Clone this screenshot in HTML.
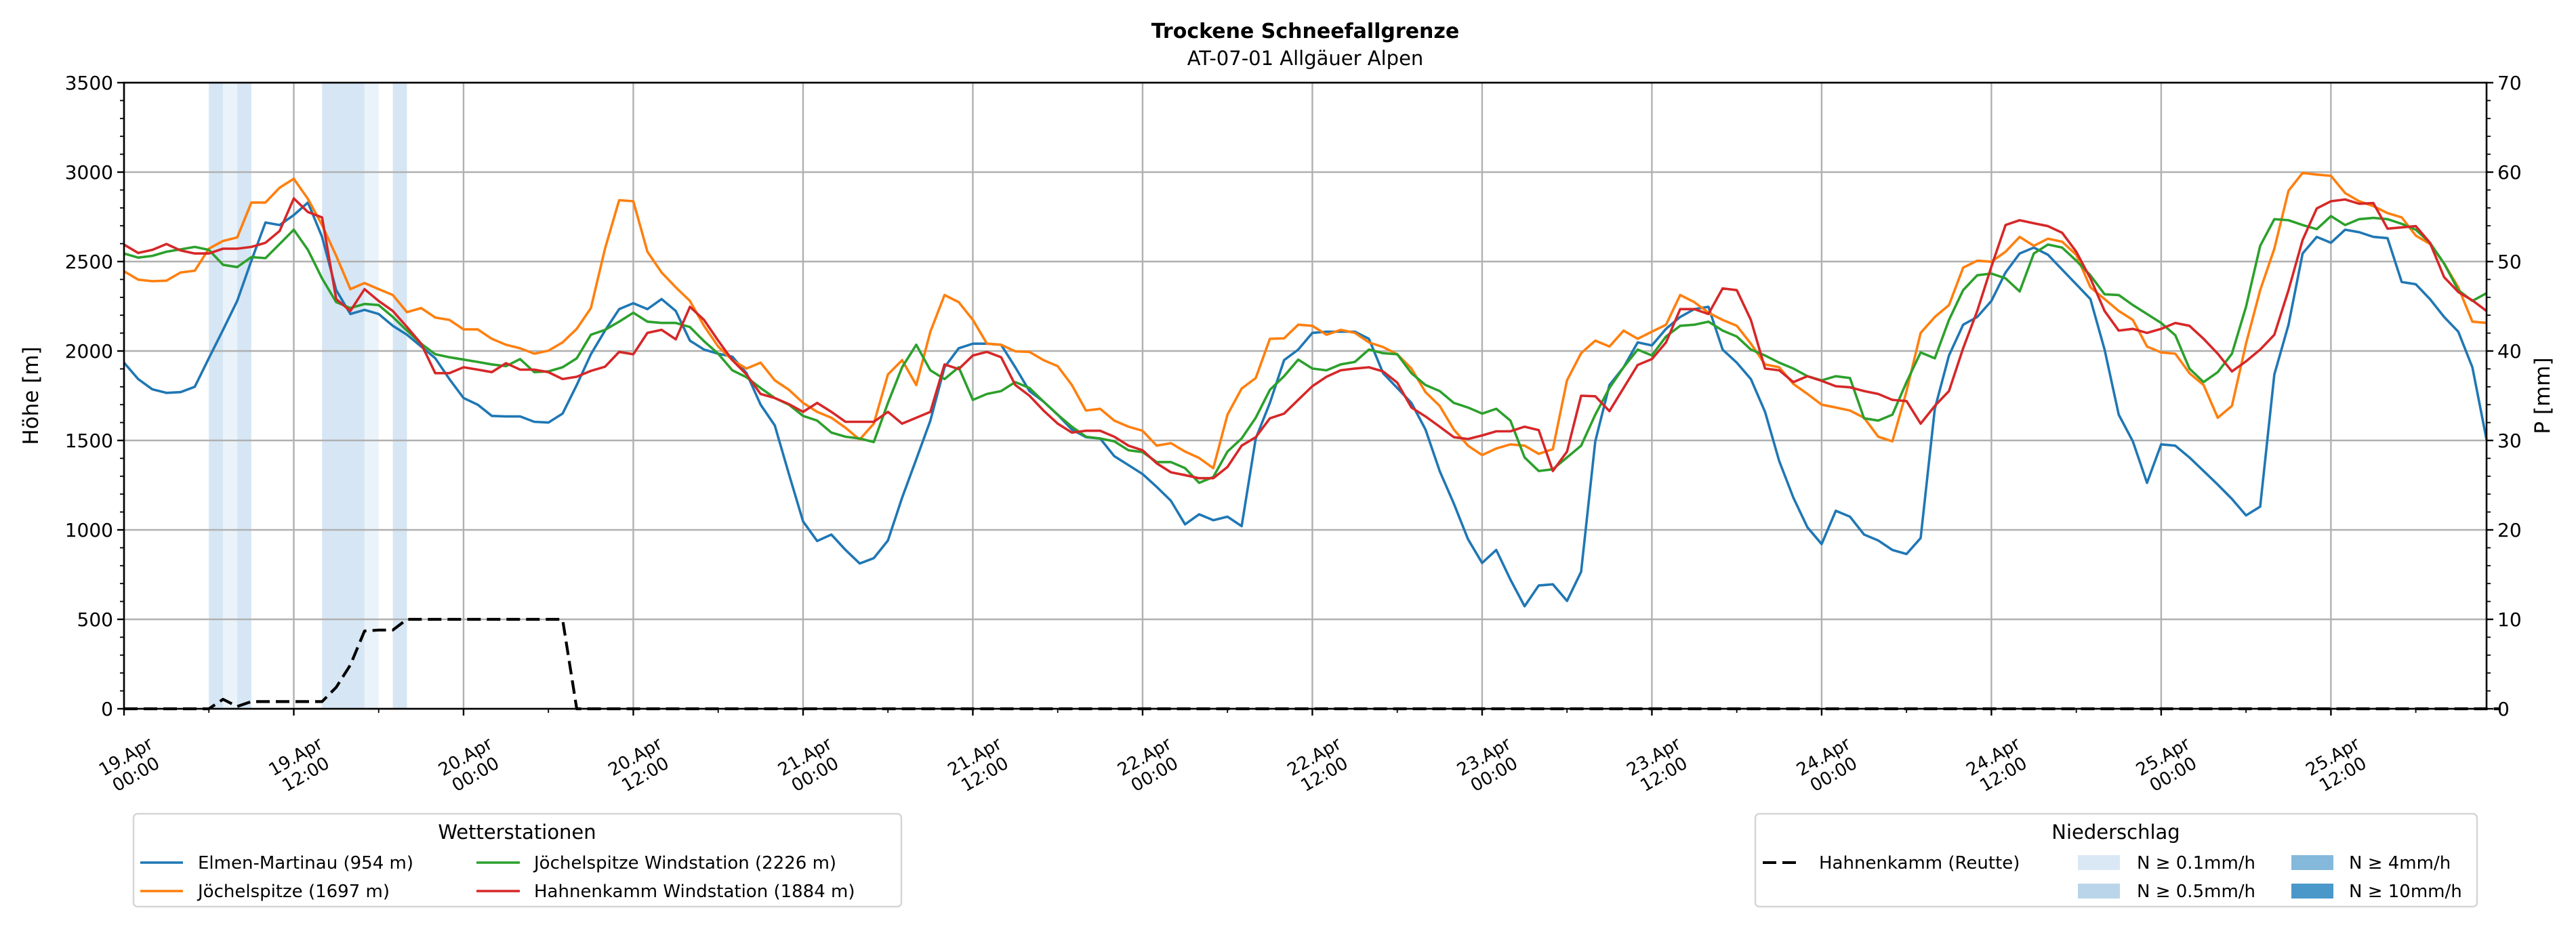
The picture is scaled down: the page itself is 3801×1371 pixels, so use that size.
<!DOCTYPE html>
<html><head><meta charset="utf-8"><style>
html,body{margin:0;padding:0;background:#fff;}
svg{display:block;font-family:"DejaVu Sans","Liberation Sans",sans-serif;}
</style></head><body>
<svg id="chart" width="3801" height="1371" viewBox="0 0 3801 1371" xmlns="http://www.w3.org/2000/svg">
<text x="1926" y="56" text-anchor="middle" font-size="30" font-weight="bold">Trockene Schneefallgrenze</text>
<text x="1926" y="96" text-anchor="middle" font-size="29">AT-07-01 Allgäuer Alpen</text>
<g id="bands"></g>
<g id="grid"></g>
<g id="series"></g>
<g id="axes"></g>
<text transform="translate(46,584) rotate(-90)" text-anchor="middle" dominant-baseline="central" font-size="31">Höhe [m]</text>
<text transform="translate(3752,584) rotate(-90)" text-anchor="middle" dominant-baseline="central" font-size="31">P [mm]</text>

<g>
<rect x="197" y="1201" width="1133" height="137" rx="6" fill="#fff" stroke="#d6d6d6" stroke-width="2.5"/>
<text x="763" y="1238" text-anchor="middle" font-size="29">Wetterstationen</text>
<g><line x1="207" y1="1273" x2="270" y2="1273" stroke="#1f77b4" stroke-width="3.5"/><text x="292" y="1282" font-size="26">Elmen-Martinau (954 m)</text></g>
<g><line x1="207" y1="1315" x2="270" y2="1315" stroke="#ff7f0e" stroke-width="3.5"/><text x="292" y="1324" font-size="26">Jöchelspitze (1697 m)</text></g>
<g><line x1="703" y1="1273" x2="767" y2="1273" stroke="#2ca02c" stroke-width="3.5"/><text x="788" y="1282" font-size="26">Jöchelspitze Windstation (2226 m)</text></g>
<g><line x1="703" y1="1315" x2="767" y2="1315" stroke="#d62728" stroke-width="3.5"/><text x="788" y="1324" font-size="26">Hahnenkamm Windstation (1884 m)</text></g>
</g>

<g>
<rect x="2590" y="1201" width="1065" height="137" rx="6" fill="#fff" stroke="#d6d6d6" stroke-width="2.5"/>
<text x="3122" y="1238" text-anchor="middle" font-size="29">Niederschlag</text>
<g><line x1="2601" y1="1273" x2="2658" y2="1273" stroke="#000" stroke-width="4" stroke-dasharray="20,9"/><text x="2684" y="1282" font-size="26">Hahnenkamm (Reutte)</text></g>
<g><rect x="3066" y="1262" width="62" height="22" fill="#dae8f5"/><text x="3153" y="1282" font-size="26">N ≥ 0.1mm/h</text></g>
<g><rect x="3066" y="1304" width="62" height="22" fill="#bad5ea"/><text x="3153" y="1324" font-size="26">N ≥ 0.5mm/h</text></g>
<g><rect x="3381" y="1262" width="62" height="22" fill="#84b9dc"/><text x="3466" y="1282" font-size="26">N ≥ 4mm/h</text></g>
<g><rect x="3381" y="1304" width="62" height="22" fill="#4a97c9"/><text x="3466" y="1324" font-size="26">N ≥ 10mm/h</text></g>
</g>
</svg>
<script>
const elmen = [1935,1843,1786,1766,1770,1800,1960,2118,2280,2505,2718,2704,2760,2830,2638,2340,2207,2230,2207,2141,2091,2025,1960,1843,1737,1700,1637,1634,1634,1604,1600,1650,1810,1982,2114,2234,2267,2234,2290,2224,2058,2008,1985,1968,1876,1700,1584,1312,1047,938,974,888,812,842,
941,1180,1395,1611,1909,2015,2041,2041,2035,1909,1776,1717,1644,1561,1518,1511,1412,1362,1312,1240,1163,1031,1087,1054,1074,1021,1511,1710,1949,2008,2101,2108,2108,2108,2068,1876,1793,1710,1561,1329,1147,948,815,888,722,573,689,696,603,766,1495,1810,1909,2048,2031,2124,2190,2234,2247,2008,
1935,1843,1660,1385,1180,1014,921,1107,1074,974,941,888,865,954,1677,1975,2147,2190,2280,2439,2545,2578,2538,2455,2373,2290,2008,1644,1495,1263,1478,1471,1405,1329,1253,1173,1081,1130,1869,2147,2545,2638,2605,2678,2664,2638,2631,2386,2373,2290,2190,2108,1909,1505];
const joechel = [2446,2399,2390,2393,2439,2449,2572,2615,2635,2830,2830,2913,2963,2850,2704,2532,2346,2380,2346,2313,2217,2240,2187,2174,2121,2121,2068,2035,2015,1985,2002,2048,2124,2240,2572,2843,2837,2555,2439,2356,2280,2141,2025,1949,1902,1935,1836,1783,1710,1660,1627,1571,1505,1594,
1869,1949,1810,2108,2313,2273,2174,2041,2035,1998,1995,1949,1915,1810,1667,1677,1611,1577,1554,1471,1485,1438,1402,1345,1644,1790,1849,2068,2071,2147,2141,2091,2118,2101,2048,2022,1982,1902,1770,1693,1561,1471,1418,1455,1478,1471,1425,1451,1836,1988,2058,2025,2114,2068,2108,2147,2313,2273,2214,2174,
2141,2041,1925,1909,1816,1760,1700,1684,1667,1627,1521,1495,1776,2101,2190,2257,2466,2505,2499,2555,2638,2588,2628,2611,2538,2356,2290,2224,2174,2025,1992,1985,1876,1810,1627,1693,2041,2340,2572,2896,2996,2986,2979,2883,2837,2810,2771,2747,2645,2598,2489,2356,2164,2157];
const joechelWind = [2545,2522,2532,2555,2568,2582,2565,2482,2469,2525,2519,2598,2678,2565,2406,2273,2240,2263,2257,2190,2114,2041,1982,1965,1952,1939,1925,1915,1955,1882,1886,1909,1959,2091,2118,2164,2214,2164,2157,2157,2134,2055,1985,1892,1853,1793,1737,1700,1637,1611,1544,1521,1511,1491,
1710,1909,2035,1892,1843,1909,1727,1760,1776,1826,1793,1717,1644,1577,1521,1511,1495,1445,1435,1379,1379,1345,1263,1296,1438,1511,1627,1783,1859,1952,1902,1892,1925,1939,2008,1988,1982,1876,1810,1776,1710,1684,1650,1677,1611,1405,1329,1339,1405,1471,1644,1793,1909,2008,1975,2081,2141,2147,2164,2114,
2081,2008,1975,1935,1902,1859,1836,1859,1849,1624,1611,1644,1826,1992,1959,2174,2340,2423,2433,2406,2333,2545,2595,2578,2505,2423,2317,2313,2257,2207,2157,2088,1902,1826,1882,1985,2247,2588,2737,2731,2704,2681,2754,2704,2737,2744,2737,2711,2678,2605,2489,2340,2280,2323];
const hahnWind = [2595,2548,2565,2598,2562,2545,2545,2572,2572,2582,2605,2671,2853,2777,2747,2290,2224,2346,2280,2224,2134,2041,1876,1876,1909,1896,1882,1932,1896,1896,1882,1843,1856,1889,1912,1995,1982,2101,2118,2065,2247,2174,2058,1949,1869,1760,1737,1703,1660,1710,1660,1604,1604,1604,
1660,1594,1627,1660,1925,1899,1975,1995,1965,1810,1750,1667,1594,1544,1554,1554,1521,1471,1445,1372,1322,1306,1289,1289,1352,1471,1518,1624,1650,1727,1803,1856,1892,1902,1909,1886,1823,1684,1634,1577,1518,1508,1528,1551,1551,1577,1558,1329,1438,1750,1747,1664,1793,1922,1955,2048,2234,2234,2207,2350,
2340,2174,1902,1892,1826,1859,1833,1803,1797,1776,1760,1727,1720,1594,1693,1776,2015,2224,2472,2704,2731,2714,2698,2661,2555,2406,2224,2114,2124,2101,2124,2157,2141,2068,1985,1886,1942,2008,2091,2340,2621,2797,2837,2847,2823,2827,2684,2691,2698,2605,2413,2330,2283,2224];
const precipHahnenkamm = [0,0,0,0,0,0,0,1.06,0.26,0.8,0.8,0.8,0.8,0.8,0.8,2.4,4.9,8.7,8.8,8.8,10,10,10,10,10,10,10,10,10,10,10,10,0,
0,0,0,0,0,0,0,0,0,0,0,0,0,0,0,0,0,0,0,0,0,0,0,0,0,0,0,0,0,0,0,0,0,0,0,0,0,0,0,0,0,0,0,0,0,0,0,0,
0,0,0,0,0,0,0,0,0,0,0,0,0,0,0,0,0,0,0,0,0,0,0,0,0,0,0,0,0,0,0,0,0,0,0,0,0,0,0,0,0,0,0,0,0,0,0,0,
0,0,0,0,0,0,0,0,0,0,0,0,0,0,0,0,0,0,0,0,0,0,0,0,0,0,0,0,0,0,0,0,0,0,0,0,0,0,0,0];
const rainHours = [6,7,8,14,15,16,17,19];
const rainRates = [0.6,0.2,0.6,0.7,0.7,0.7,0.2,0.6];
const xTickHours = [0,12,24,36,48,60,72,84,96,108,120,132,144,156];
const xTickLabels = ["19.Apr|00:00","19.Apr|12:00","20.Apr|00:00","20.Apr|12:00","21.Apr|00:00","21.Apr|12:00","22.Apr|00:00","22.Apr|12:00","23.Apr|00:00","23.Apr|12:00","24.Apr|00:00","24.Apr|12:00","25.Apr|00:00","25.Apr|12:00"];
const yTicks = [0,500,1000,1500,2000,2500,3000,3500];
const y2Ticks = [0,10,20,30,40,50,60,70];

const NS="http://www.w3.org/2000/svg";
const L=183,R=3669,T=122,B=1046,XMAX=167,YMAX=3500,Y2MAX=70;
const xs=h=>L+(R-L)*h/XMAX;
const ys=v=>B-(B-T)*v/YMAX;
const y2s=v=>B-(B-T)*v/Y2MAX;
function mk(tag,attrs,parent){const e=document.createElementNS(NS,tag);for(const k in attrs)e.setAttribute(k,attrs[k]);parent.appendChild(e);return e;}
const gB=document.getElementById('bands'),gG=document.getElementById('grid'),gS=document.getElementById('series'),gA=document.getElementById('axes');

rainHours.forEach((h,i)=>{
  const r=rainRates[i];
  const col=r>=10?'#4a97c9':r>=4?'#84b9dc':r>=0.5?'#d6e6f4':'#ebf3fa';
  const e=mk('rect',{x:xs(h),y:T,width:xs(h+1)-xs(h),height:B-T,fill:col},gB);
  
  
});
xTickHours.forEach(h=>{const e=mk('line',{x1:xs(h),x2:xs(h),y1:T,y2:B,stroke:'#b0b0b0','stroke-width':2.4},gG);
  
  });
yTicks.forEach(v=>{const e=mk('line',{x1:L,x2:R,y1:ys(v),y2:ys(v),stroke:'#b0b0b0','stroke-width':2.4},gG);
  
  });

function line(arr,scale,color,name,dash){
  const pts=arr.map((v,i)=>xs(i).toFixed(1)+','+scale(v).toFixed(1)).join(' ');
  const a={points:pts,fill:'none',stroke:color,'stroke-width':dash?4.2:3.6,'stroke-linejoin':'round'};
  if(dash)a['stroke-dasharray']='20,9';
  const e=mk('polyline',a,gS);
  
  
}
line(precipHahnenkamm,y2s,'#000','precip-hahnenkamm-line',true);
line(elmen,ys,'#1f77b4','elmen-martinau-line');
line(joechel,ys,'#ff7f0e','joechelspitze-line');
line(joechelWind,ys,'#2ca02c','joechelspitze-wind-line');
line(hahnWind,ys,'#d62728','hahnenkamm-wind-line');

const frame=mk('rect',{x:L,y:T,width:R-L,height:B-T,fill:'none',stroke:'#000','stroke-width':2.6},gA);


for(let h=0;h<=XMAX;h+=6){const maj=h%12===0;mk('line',{x1:xs(h),x2:xs(h),y1:B,y2:B+(maj?10:6),stroke:'#000','stroke-width':maj?2.4:1.8},gA);}
for(let v=0;v<=YMAX;v+=100){const maj=v%500===0;mk('line',{x1:L,x2:L-(maj?10:6),y1:ys(v),y2:ys(v),stroke:'#000','stroke-width':maj?2.4:1.8},gA);}
for(let v=0;v<=Y2MAX;v+=2){const maj=v%10===0;mk('line',{x1:R,x2:R+(maj?10:6),y1:y2s(v),y2:y2s(v),stroke:'#000','stroke-width':maj?2.4:1.8},gA);}
yTicks.forEach(v=>{const t=mk('text',{x:L-16,y:ys(v)+10,'text-anchor':'end','font-size':28},gA);t.textContent=v;
  
  });
y2Ticks.forEach(v=>{const t=mk('text',{x:R+16,y:y2s(v)+10,'font-size':28},gA);t.textContent=v;
  
  });
xTickHours.forEach((h,i)=>{
  const parts=xTickLabels[i].split('|');
  const t=mk('text',{transform:`translate(${xs(h)+8},1126) rotate(-30)`,'text-anchor':'middle','font-size':26},gA);
  
  
  mk('tspan',{x:0,dy:-2},t).textContent=parts[0];
  mk('tspan',{x:0,dy:30},t).textContent=parts[1];
});
</script>
</body></html>
